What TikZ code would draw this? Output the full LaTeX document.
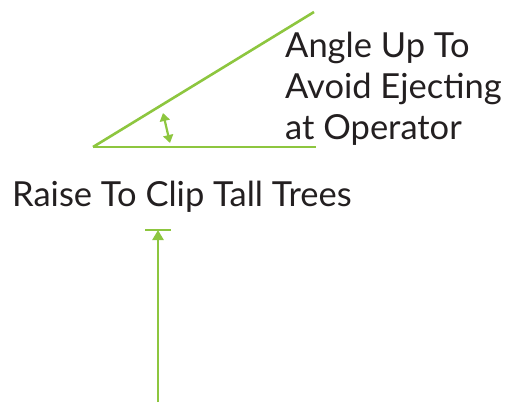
\documentclass[tikz,border=0pt]{standalone}
\usepackage{fontspec}
\setmainfont{Lato}
\usetikzlibrary{arrows.meta}
\definecolor{lgreen}{HTML}{8DC63F}
\definecolor{txt}{HTML}{231F20}
\tikzset{
  gline/.style={draw=lgreen, line width=2.6pt},
  lbl/.style={text=txt, font=\fontsize{34.5}{42}\selectfont, inner sep=0pt, anchor=base west, align=left},
}
\begin{document}
\begin{tikzpicture}[x=1pt,y=-1pt]
\useasboundingbox (0,0) rectangle (508,404);
\coordinate (o) at (93,147);
\coordinate (d) at (314,12);
\coordinate (h) at (316,147);
\draw[gline] (o) -- (d);
\draw[gline] (o) -- (h);
\coordinate (a1) at (163,113);
\coordinate (a2) at (170,143);
\draw[draw=lgreen, line width=2.2pt, {Triangle[length=8pt,width=10pt]}-{Triangle[length=8pt,width=10pt]}] (a1) -- (a2);
\node[lbl] (t1) at (285,57) {Angle Up To};
\node[lbl] (t2) at (285,98) {Avoid Ejecting};
\node[lbl] (t3) at (285,139) {at Operator};
\node[lbl] (t4) at (12,206) {Raise To Clip Tall Trees};
\coordinate (vb) at (158,402);
\coordinate (vt) at (158,230);
\coordinate (bl) at (145,230);
\coordinate (br) at (171,230);
\draw[draw=lgreen, line width=2.4pt, -{Triangle[length=10pt,width=11pt]}] (vb) -- (vt);
\draw[draw=lgreen, line width=2.4pt] (bl) -- (br);
\end{tikzpicture}
\end{document}
